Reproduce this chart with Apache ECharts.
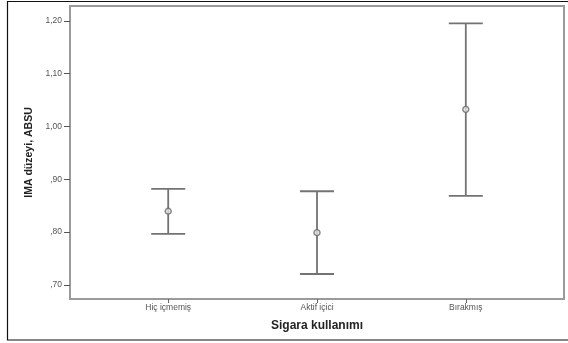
<!DOCTYPE html>
<html><head><meta charset="utf-8">
<script src="https://cdn.jsdelivr.net/npm/echarts@6/dist/echarts.min.js"></script>
<style>html,body{margin:0;padding:0;background:#fff}#c{width:568px;height:343px}</style>
</head><body><div id="c"></div>
<script>
const categories = ["Hiç içmemiş", "Aktif içici", "Bırakmış"];
const means = [0.8395, 0.799, 1.0324];
const lowers = [0.7966, 0.7207, 0.8687];
const uppers = [0.882, 0.8774, 1.195];
const yTicks = [0.7, 0.8, 0.9, 1.0, 1.1, 1.2];

function fmt(v){
  let s = v.toFixed(2).replace('.', ',');
  if (s.startsWith('0')) s = s.slice(1);
  return s;
}
const catIdx = categories.map((_, i) => i);
const chart = echarts.init(document.getElementById('c'), null, {renderer:'canvas'});
chart.setOption({
  animation:false,
  backgroundColor:'#fff',
  graphic:[{type:'rect', shape:{x:7.5,y:1.5,width:580,height:338.5}, style:{fill:'none', stroke:'#111', lineWidth:1.2}, z:-1}],
  grid:{left:70, top:6, right:4, bottom:44, show:true, borderColor:'#9a9a9a', borderWidth:2, backgroundColor:'transparent'},
  xAxis:{
    type:'value', min:-0.66, max:2.66,
    name:'Sigara kullanımı', nameLocation:'middle', nameGap:21,
    nameTextStyle:{fontFamily:'Liberation Sans', fontWeight:'bold', fontSize:12, color:'#222'},
    axisLine:{show:false, onZero:false},
    splitLine:{show:false},
    axisTick:{show:true, customValues:catIdx, length:4, inside:false, lineStyle:{color:'#666', width:1}},
    axisLabel:{customValues:catIdx, formatter:v=>categories[Math.round(v)], fontFamily:'Liberation Sans', fontSize:8.5, color:'#555', margin:4}
  },
  yAxis:{
    type:'value', min:0.6734, max:1.228,
    name:'IMA düzeyi, ABSU', nameLocation:'middle', nameGap:34, nameRotate:90,
    nameTextStyle:{fontFamily:'Liberation Sans Narrow, Liberation Sans', fontWeight:'bold', fontSize:10.5, color:'#222'},
    axisLine:{show:false, onZero:false},
    splitLine:{show:false},
    axisTick:{show:true, customValues:yTicks, length:6, lineStyle:{color:'#555', width:1}},
    axisLabel:{customValues:yTicks, formatter:fmt, fontFamily:'Liberation Sans', fontSize:8.5, color:'#555', margin:8}
  },
  series:[
    {
      type:'custom',
      data: catIdx.map(i => [i, lowers[i], uppers[i]]),
      renderItem:function(params, api){
        const x = api.value(0);
        const lo = api.coord([x, api.value(1)]);
        const hi = api.coord([x, api.value(2)]);
        const hw = 17;
        const st = {stroke:'#737373', lineWidth:1.8};
        return {type:'group', children:[
          {type:'line', shape:{x1:lo[0], y1:lo[1], x2:hi[0], y2:hi[1]}, style:st},
          {type:'line', shape:{x1:lo[0]-hw, y1:lo[1], x2:lo[0]+hw, y2:lo[1]}, style:st},
          {type:'line', shape:{x1:hi[0]-hw, y1:hi[1], x2:hi[0]+hw, y2:hi[1]}, style:st}
        ]};
      },
      z:2
    },
    {
      type:'scatter',
      data: catIdx.map(i => [i, means[i]]),
      symbol:'circle', symbolSize:6,
      itemStyle:{color:'#e0e0e0', borderColor:'#666', borderWidth:1.4},
      z:3
    }
  ]
});
</script></body></html>
